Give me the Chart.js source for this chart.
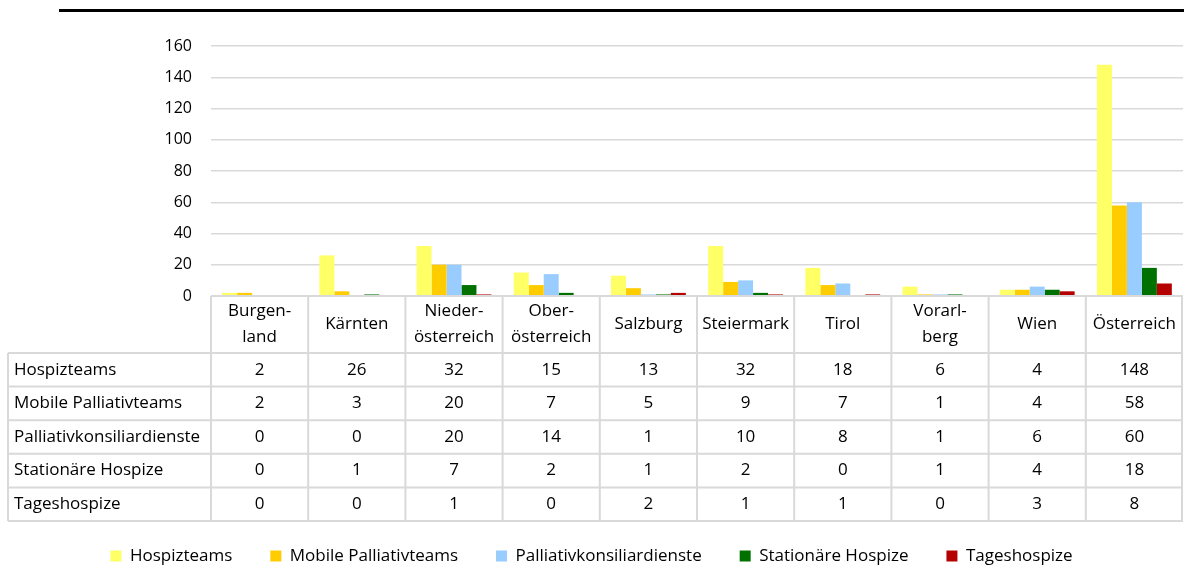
<!DOCTYPE html>
<html>
<head>
<meta charset="utf-8">
<script src="https://cdn.jsdelivr.net/npm/chart.js@4"></script>
<style>
  body { margin: 0; background: #fff; }
  #wrap { position: relative; width: 1184px; height: 567px; }
  #topline { position: absolute; left: 59px; top: 9px; width: 1125px; height: 3px; background: #000; }
  canvas { position: absolute; left: 0; top: 0; }
</style>
</head>
<body>
<div id="wrap">
  <div id="topline"></div>
  <canvas id="barCanvas" width="1184" height="567"></canvas>
</div>
<script>
// Daten
const categories = [["Burgen-", "land"], "Kärnten", ["Nieder-", "österreich"], ["Ober-", "österreich"], "Salzburg", "Steiermark", "Tirol", ["Vorarl-", "berg"], "Wien", "Österreich"];
const seriesNames = ["Hospizteams", "Mobile Palliativteams", "Palliativkonsiliardienste", "Stationäre Hospize", "Tageshospize"];
const hospizteams = [2, 26, 32, 15, 13, 32, 18, 6, 4, 148];
const mobilePalliativteams = [2, 3, 20, 7, 5, 9, 7, 1, 4, 58];
const palliativkonsiliardienste = [0, 0, 20, 14, 1, 10, 8, 1, 6, 60];
const stationaereHospize = [0, 1, 7, 2, 1, 2, 0, 1, 4, 18];
const tageshospize = [0, 0, 1, 0, 2, 1, 1, 0, 3, 8];
const yTicks = [0, 20, 40, 60, 80, 100, 120, 140, 160];

const colors = ["#FFFF66", "#FFCC00", "#99CCFF", "#007000", "#B40000"];
const fontFamily = "'Segoe UI', 'Open Sans', sans-serif";
const gridColor = "#d9d9d9";

// Layout-Konstanten
const plotTop = 46;
const plotBottom = 296;
const legendCenterY = 556;
const headH = 57;
const rowH = 33.6;
const tableLeft = 8;

// Datentabelle unter dem Diagramm
const tablePlugin = {
    id: "dataTable",
    afterLayout(chart) {
        // Legende nach unten schieben
        const lg = chart.legend;
        const pad = lg.options.labels.padding;
        const itemH = 17;
        const shift = legendCenterY - (lg.top + pad + itemH / 2);
        lg.top += shift;
        lg.bottom += shift;
    },
    afterDraw(chart) {
        const { ctx, chartArea, scales } = chart;
        const x = scales.x;
        const n = categories.length;
        const colW = (chartArea.right - chartArea.left) / n;
        const top = chartArea.bottom;
        const rows = chart.data.datasets.length;
        const bottom = top + headH + rows * rowH;
        const right = chartArea.right;

        ctx.save();
        ctx.strokeStyle = gridColor;
        ctx.lineWidth = 2;
        ctx.beginPath();
        // horizontale Linien
        ctx.moveTo(chartArea.left, top);
        ctx.lineTo(right, top);
        for (let r = 0; r <= rows; r++) {
            const y = top + headH + r * rowH;
            ctx.moveTo(tableLeft, y);
            ctx.lineTo(right, y);
        }
        // vertikale Linien
        for (let i = 0; i <= n; i++) {
            const xx = Math.min(chartArea.left + i * colW, right - 1);
            ctx.moveTo(xx, top);
            ctx.lineTo(xx, bottom);
        }
        ctx.moveTo(tableLeft, top + headH);
        ctx.lineTo(tableLeft, bottom);
        ctx.stroke();

        ctx.fillStyle = "#000";
        ctx.font = "17px " + fontFamily;
        ctx.textBaseline = "middle";
        ctx.textAlign = "center";
        // Kopfzeile
        categories.forEach((cat, i) => {
            const cx = x.getPixelForValue(i);
            const lines = Array.isArray(cat) ? cat : [cat];
            const mid = top + headH / 2;
            lines.forEach((line, k) => {
                const y = mid + (k - (lines.length - 1) / 2) * 26;
                ctx.fillText(line, cx, y);
            });
        });
        // Datenzeilen
        chart.data.datasets.forEach((ds, r) => {
            const y = top + headH + r * rowH + rowH / 2;
            ctx.textAlign = "left";
            ctx.fillText(ds.label, 14, y);
            ctx.textAlign = "center";
            ds.data.forEach((v, i) => {
                ctx.fillText(String(v), x.getPixelForValue(i), y);
            });
        });
        ctx.restore();
    }
};

const seriesData = [hospizteams, mobilePalliativteams, palliativkonsiliardienste, stationaereHospize, tageshospize];

new Chart(document.getElementById("barCanvas"), {
    type: "bar",
    data: {
        labels: categories,
        datasets: seriesNames.map((name, i) => ({
            label: name,
            data: seriesData[i],
            backgroundColor: colors[i],
            borderWidth: 0,
            barPercentage: 1,
            categoryPercentage: 0.77
        }))
    },
    options: {
        responsive: false,
        devicePixelRatio: 1,
        animation: false,
        layout: { padding: { top: plotTop, right: 1, left: 0, bottom: 0 } },
        plugins: {
            legend: {
                position: "bottom",
                labels: {
                    boxWidth: 11,
                    boxHeight: 11,
                    padding: 38,
                    color: "#000",
                    font: { family: fontFamily, size: 17 }
                }
            },
            tooltip: { enabled: false }
        },
        scales: {
            x: {
                grid: { display: false, drawTicks: false },
                border: { display: false },
                ticks: { display: false },
                afterFit(scale) {
                    scale.height = scale.chart.height - plotBottom - scale.chart.legend.height;
                }
            },
            y: {
                min: 0,
                max: 160,
                afterBuildTicks(scale) { scale.ticks = yTicks.map(v => ({ value: v })); },
                grid: { color: gridColor, lineWidth: 1.5, drawTicks: false },
                border: { display: false },
                ticks: {
                    padding: 19,
                    color: "#000",
                    font: { family: fontFamily, size: 16 }
                },
                afterFit(scale) { scale.width = 211; }
            }
        }
    },
    plugins: [tablePlugin]
});
</script>
</body>
</html>
